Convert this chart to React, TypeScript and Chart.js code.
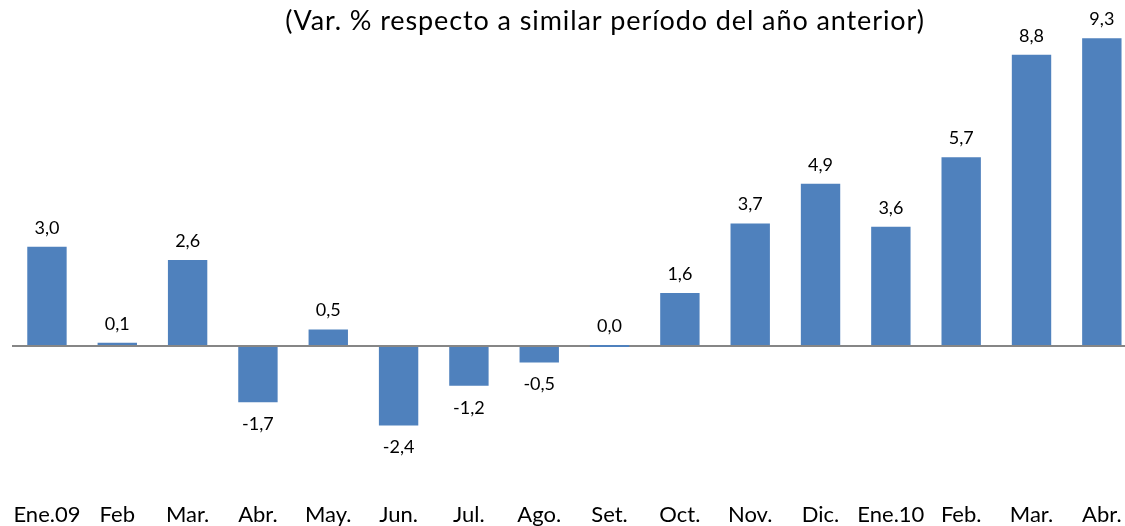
import React, { useEffect, useRef } from "react";
import { Chart, registerables } from "chart.js";

Chart.register(...registerables);

const categories = ["Ene.09", "Feb", "Mar.", "Abr.", "May.", "Jun.", "Jul.", "Ago.", "Set.", "Oct.", "Nov.", "Dic.", "Ene.10", "Feb.", "Mar.", "Abr."];
const values = [3.0, 0.1, 2.6, -1.7, 0.5, -2.4, -1.2, -0.5, 0.0, 1.6, 3.7, 4.9, 3.6, 5.7, 8.8, 9.3];
const titleText = "(Var. % respecto a similar período del año anterior)";

const FONT = "Lato, 'Open Sans', sans-serif";
const W = 1150;
const H = 545;

const labelPlugin = {
  id: "barLabels",
  afterDatasetsDraw(chart: any) {
    const ctx = chart.ctx;
    const meta = chart.getDatasetMeta(0);
    ctx.save();
    ctx.font = `18px ${FONT}`;
    ctx.fillStyle = "#000000";
    ctx.textAlign = "center";
    ctx.textBaseline = "middle";
    meta.data.forEach((el: any, i: number) => {
      const v = values[i];
      const txt = v.toFixed(1).replace(".", ",");
      const y = v >= 0 ? Math.min(el.y, el.base) - 19 : Math.max(el.y, el.base) + 22;
      ctx.fillText(txt, el.x, y);
    });
    ctx.restore();
  },
};

const titlePlugin = {
  id: "topTitle",
  afterDraw(chart: any) {
    const ctx = chart.ctx;
    ctx.save();
    ctx.font = `27px ${FONT}`;
    (ctx as any).letterSpacing = "0.9px";
    ctx.fillStyle = "#000000";
    ctx.textAlign = "center";
    ctx.textBaseline = "middle";
    ctx.fillText(titleText, 605, 21);
    ctx.restore();
  },
};

export default function App() {
  const ref = useRef<HTMLCanvasElement | null>(null);
  useEffect(() => {
    if (!ref.current) return;
    const chart = new Chart(ref.current, {
      type: "bar",
      data: {
        labels: categories,
        datasets: [
          {
            data: values,
            backgroundColor: "#4F81BD",
            borderWidth: 0,
            categoryPercentage: 1,
            barPercentage: 0.56,
            minBarLength: 2,
          },
        ],
      },
      options: {
        responsive: false,
        animation: false,
        devicePixelRatio: 1,
        layout: { padding: { left: 11.8, right: W - 1137, top: 15, bottom: 0 } },
        plugins: { legend: { display: false }, tooltip: { enabled: false }, title: { display: false } },
        scales: {
          x: {
            grid: { display: false, drawTicks: false },
            border: { display: false },
            ticks: { color: "#000000", font: { family: FONT, size: 22 }, padding: 23, maxRotation: 0, autoSkip: false },
            afterFit: (scale: any) => {
              scale.height = H - 478.4;
              scale.paddingLeft = 0;
              scale.paddingRight = 0;
            },
          },
          y: {
            min: -4,
            max: 10,
            ticks: { display: false, stepSize: 1 },
            border: { display: false },
            grid: {
              drawTicks: false,
              color: (c: any) => (c.tick && c.tick.value === 0 ? "#868686" : "rgba(0,0,0,0)"),
              lineWidth: 2,
            },
            afterFit: (scale: any) => {
              scale.width = 0;
            },
          },
        },
      },
      plugins: [labelPlugin, titlePlugin],
    });
    return () => chart.destroy();
  }, []);
  return (
    <div style={{ position: "absolute", left: 0, top: 0, width: 1125, height: 526, overflow: "hidden", background: "#fff" }}>
      <canvas ref={ref} width={W} height={H} style={{ width: W, height: H, display: "block" }} />
    </div>
  );
}
